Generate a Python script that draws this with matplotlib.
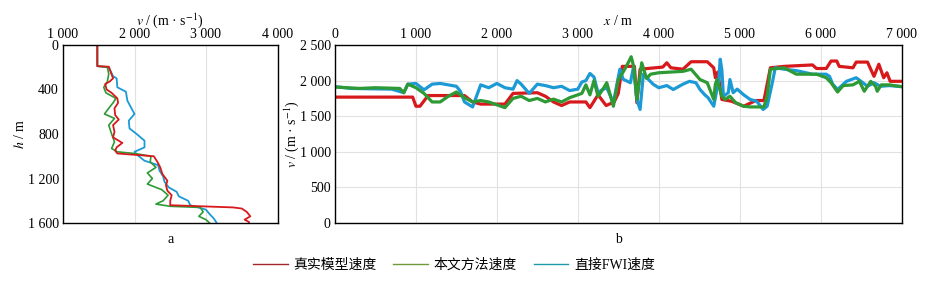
import numpy as np
import matplotlib.pyplot as plt
from matplotlib.lines import Line2D

plt.rcParams['font.family'] = ['Liberation Serif', 'Noto Sans CJK SC']
plt.rcParams['mathtext.fontset'] = 'stix'

# ---- panel a: well log, velocity vs depth ----
h_red = [0, 190, 195, 230, 300, 330, 350, 400, 430, 480, 520, 570, 630, 670, 720, 780, 830, 880,
         920, 950, 975, 1000, 1050, 1100, 1160, 1220, 1260, 1310, 1350, 1400, 1440, 1460, 1470,
         1500, 1540, 1570, 1590, 1600]
wv_red = [1480, 1480, 1640, 1660, 1700, 1650, 1590, 1610, 1680, 1760, 1770, 1720, 1730, 1780, 1700,
          1720, 1700, 1830, 1750, 1730, 1760, 2270, 2320, 2360, 2390, 2460, 2440, 2460, 2520, 2500,
          2500, 3380, 3500, 3570, 3620, 3540, 3600, 3600]

h_grn = [0, 190, 200, 260, 330, 380, 430, 480, 520, 560, 620, 660, 720, 800, 870, 930, 960, 975,
         1000, 1050, 1100, 1150, 1200, 1250, 1300, 1350, 1400, 1430, 1450, 1460, 1500, 1540,
         1570, 1600]
wv_grn = [1480, 1480, 1620, 1640, 1620, 1570, 1600, 1740, 1700, 1650, 1580, 1720, 1640, 1680, 1720,
          1680, 1760, 2000, 2230, 2220, 2300, 2180, 2250, 2180, 2380, 2470, 2400, 2300, 2500, 2920,
          2960, 2900, 3000, 3050]

h_blu = [0, 190, 200, 280, 300, 380, 420, 500, 560, 620, 680, 750, 800, 860, 920, 960, 1000, 1040,
         1080, 1130, 1180, 1230, 1280, 1320, 1360, 1400, 1440, 1480, 1520, 1560, 1600]
wv_blu = [1480, 1480, 1640, 1700, 1750, 1760, 1880, 1900, 1950, 2000, 1920, 1930, 2030, 2140, 2140,
          2000, 2060, 2140, 2330, 2350, 2400, 2420, 2480, 2590, 2620, 2750, 2780, 3000, 3050, 3110,
          3150]

# ---- panel b: velocity along profile ----
x_red = [0, 960, 1000, 1050, 1150, 1600, 1700, 1800, 2100, 2200, 2500, 2600, 2700, 2800, 2900,
         3100, 3150, 3250, 3350, 3450, 3500, 3550, 3700, 3730, 3770, 4050, 4100, 4150, 4300,
         4400, 4600, 4680, 4700, 4730, 4780, 4900, 5050, 5200, 5300, 5340, 5380, 5550, 5900,
         5950, 6070, 6130, 6200, 6230, 6400, 6440, 6580, 6620, 6660, 6720, 6780, 6820, 6860, 7000]
pv_red = [1768, 1768, 1640, 1640, 1790, 1790, 1700, 1670, 1670, 1820, 1830, 1780, 1700, 1650, 1700,
          1700, 1620, 1800, 1650, 1700, 1820, 2200, 2200, 1690, 2160, 2190, 2250, 2180, 2160,
          2265, 2265, 2180, 2040, 2120, 1735, 1710, 1640, 1720, 1720, 1950, 2180, 2200, 2220,
          2170, 2170, 2275, 2275, 2200, 2180, 2260, 2260, 2160, 2060, 2230, 2040, 2110, 1990, 1990]

x_grn = [0, 300, 500, 800, 850, 900, 1000, 1100, 1200, 1300, 1400, 1500, 1600, 1700, 1800, 1900,
         2000, 2100, 2200, 2300, 2400, 2500, 2600, 2700, 2800, 2900, 3000, 3050, 3100, 3150,
         3200, 3250, 3300, 3358, 3440, 3500, 3550, 3600, 3660, 3690, 3730, 3790, 3850, 3900,
         4000, 4300, 4400, 4510, 4600, 4680, 4700, 4720, 4780, 4820, 4880, 4950, 5050, 5130,
         5300, 5340, 5380, 5550, 5700, 5950, 6070, 6130, 6210, 6280, 6400, 6480, 6540, 6620,
         6680, 6700, 6750, 6850, 7000]
pv_grn = [1910, 1890, 1900, 1890, 1830, 1950, 1900, 1820, 1700, 1700, 1780, 1840, 1760, 1700, 1720,
          1700, 1660, 1620, 1750, 1780, 1720, 1750, 1700, 1740, 1700, 1760, 1800, 1820, 1940, 1800,
          2000, 1780, 1860, 1970, 1640, 2015, 2100, 2200, 2335, 2200, 1735, 2250, 2030, 2090,
          2110, 2130, 2160, 2015, 1970, 1735, 1950, 2015, 1780, 1735, 1780, 1690, 1640, 1630,
          1630, 1780, 2160, 2180, 2090, 2090, 2040, 1970, 1840, 1930, 1940, 1990, 1850, 1990,
          1920, 1850, 1940, 1940, 1915]

x_blu = [0, 200, 700, 850, 900, 1000, 1100, 1200, 1300, 1400, 1500, 1550, 1600, 1700, 1800, 1900,
         2000, 2100, 2200, 2250, 2300, 2400, 2500, 2600, 2700, 2800, 2900, 3000, 3050, 3100,
         3150, 3200, 3250, 3300, 3358, 3440, 3520, 3560, 3650, 3690, 3730, 3770, 3810, 3870,
         3930, 4000, 4100, 4180, 4300, 4380, 4460, 4510, 4570, 4610, 4680, 4720, 4740, 4760,
         4780, 4800, 4860, 4880, 4920, 4970, 5050, 5130, 5210, 5290, 5340, 5400, 5440, 5550,
         5700, 5900, 6070, 6110, 6150, 6210, 6320, 6440, 6500, 6580, 6660, 6740, 6850, 7000]
pv_blu = [1915, 1890, 1880, 1830, 1950, 1960, 1870, 1950, 1960, 1940, 1920, 1850, 1700, 1630, 1940,
          1900, 1960, 1900, 1880, 2000, 1950, 1820, 1950, 1930, 1900, 1920, 1860, 1880, 1980, 2000,
          2100, 2050, 1830, 1870, 1900, 1690, 2160, 2020, 1970, 2200, 1735, 1595, 2090, 2020,
          1950, 1900, 1930, 1875, 1950, 1990, 1970, 1875, 1800, 1760, 1640, 1880, 1970, 2300,
          2150, 1780, 1830, 2015, 1830, 1880, 1800, 1735, 1710, 1595, 1640, 1950, 2180, 2160,
          2140, 2090, 2090, 2060, 1950, 1875, 1990, 2040, 1990, 1920, 1970, 1920, 1930, 1915]

c_red = '#d7191c'
c_grn = '#2e9a35'
c_blu = '#1c9ad6'
grid_c = '#e2e2e2'

fig = plt.figure(figsize=(9.34, 2.81), dpi=100)

ax1 = fig.add_axes([63/934, 1 - 223/281, (277.5 - 63)/934, 178/281])
ax1.plot(wv_blu, h_blu, color=c_blu, lw=1.3)
ax1.plot(wv_grn, h_grn, color=c_grn, lw=1.2)
ax1.plot(wv_red, h_red, color=c_red, lw=1.3)
ax1.set_xlim(1000, 4000)
ax1.set_ylim(1600, 0)
ax1.xaxis.tick_top()
ax1.xaxis.set_label_position('top')
ax1.set_xticks([1000, 2000, 3000, 4000])
ax1.set_xticklabels(['1 000', '2 000', '3 000', '4 000'])
ax1.set_yticks([0, 400, 800, 1200, 1600])
ax1.set_yticklabels(['0', '400', '800', '1 200', '1 600'])
ax1.grid(axis='x', color=grid_c, lw=0.8)
ax1.set_axisbelow(True)
ax1.set_xlabel(r'$v$ / (m · s$^{-1}$)', fontsize=10, labelpad=2)
ax1.set_ylabel(r'$h$ / m', fontsize=10)
ax1.yaxis.set_label_coords(-0.17, 0.5)
ax1.tick_params(length=0, labelsize=10, pad=3)
ax1.text(0.5, -0.09, 'a', transform=ax1.transAxes, ha='center', va='center', fontsize=10)

ax2 = fig.add_axes([335/934, 1 - 223/281, (901.5 - 335)/934, 178/281])
ax2.plot(x_red, pv_red, color=c_red, lw=2.3)
ax2.plot(x_blu, pv_blu, color=c_blu, lw=2.3)
ax2.plot(x_grn, pv_grn, color=c_grn, lw=2.3)
ax2.set_xlim(0, 7000)
ax2.set_ylim(0, 2500)
ax2.xaxis.tick_top()
ax2.xaxis.set_label_position('top')
ax2.set_xticks(range(0, 7001, 1000))
ax2.set_xticklabels(['0', '1 000', '2 000', '3 000', '4 000', '5 000', '6 000', '7 000'])
ax2.set_yticks(range(0, 2501, 500))
ax2.set_yticklabels(['0', '500', '1 000', '1 500', '2 000', '2 500'])
ax2.grid(color=grid_c, lw=0.8)
ax2.set_axisbelow(True)
ax2.set_xlabel(r'$x$ / m', fontsize=10, labelpad=2)
ax2.set_ylabel(r'$v$ / (m · s$^{-1}$)', fontsize=10)
ax2.yaxis.set_label_coords(-0.06, 0.5)
ax2.tick_params(length=0, labelsize=10, pad=3)
ax2.text(0.5, -0.09, 'b', transform=ax2.transAxes, ha='center', va='center', fontsize=10)

for ax in (ax1, ax2):
    for s in ax.spines.values():
        s.set_linewidth(1.0)

handles = [Line2D([], [], color='#a3262a', lw=1.0),
           Line2D([], [], color='#6f9a3a', lw=1.0),
           Line2D([], [], color='#1f9aa8', lw=1.0)]
labels = ['真实模型速度', '本文方法速度', '直接FWI速度']
fig.legend(handles, labels, loc='center', bbox_to_anchor=(454/934, 1 - 265/281), ncol=3,
           frameon=False, fontsize=10, handlelength=2.5, handletextpad=0.4, columnspacing=1.2)

fig.savefig('out.png', dpi=100)
